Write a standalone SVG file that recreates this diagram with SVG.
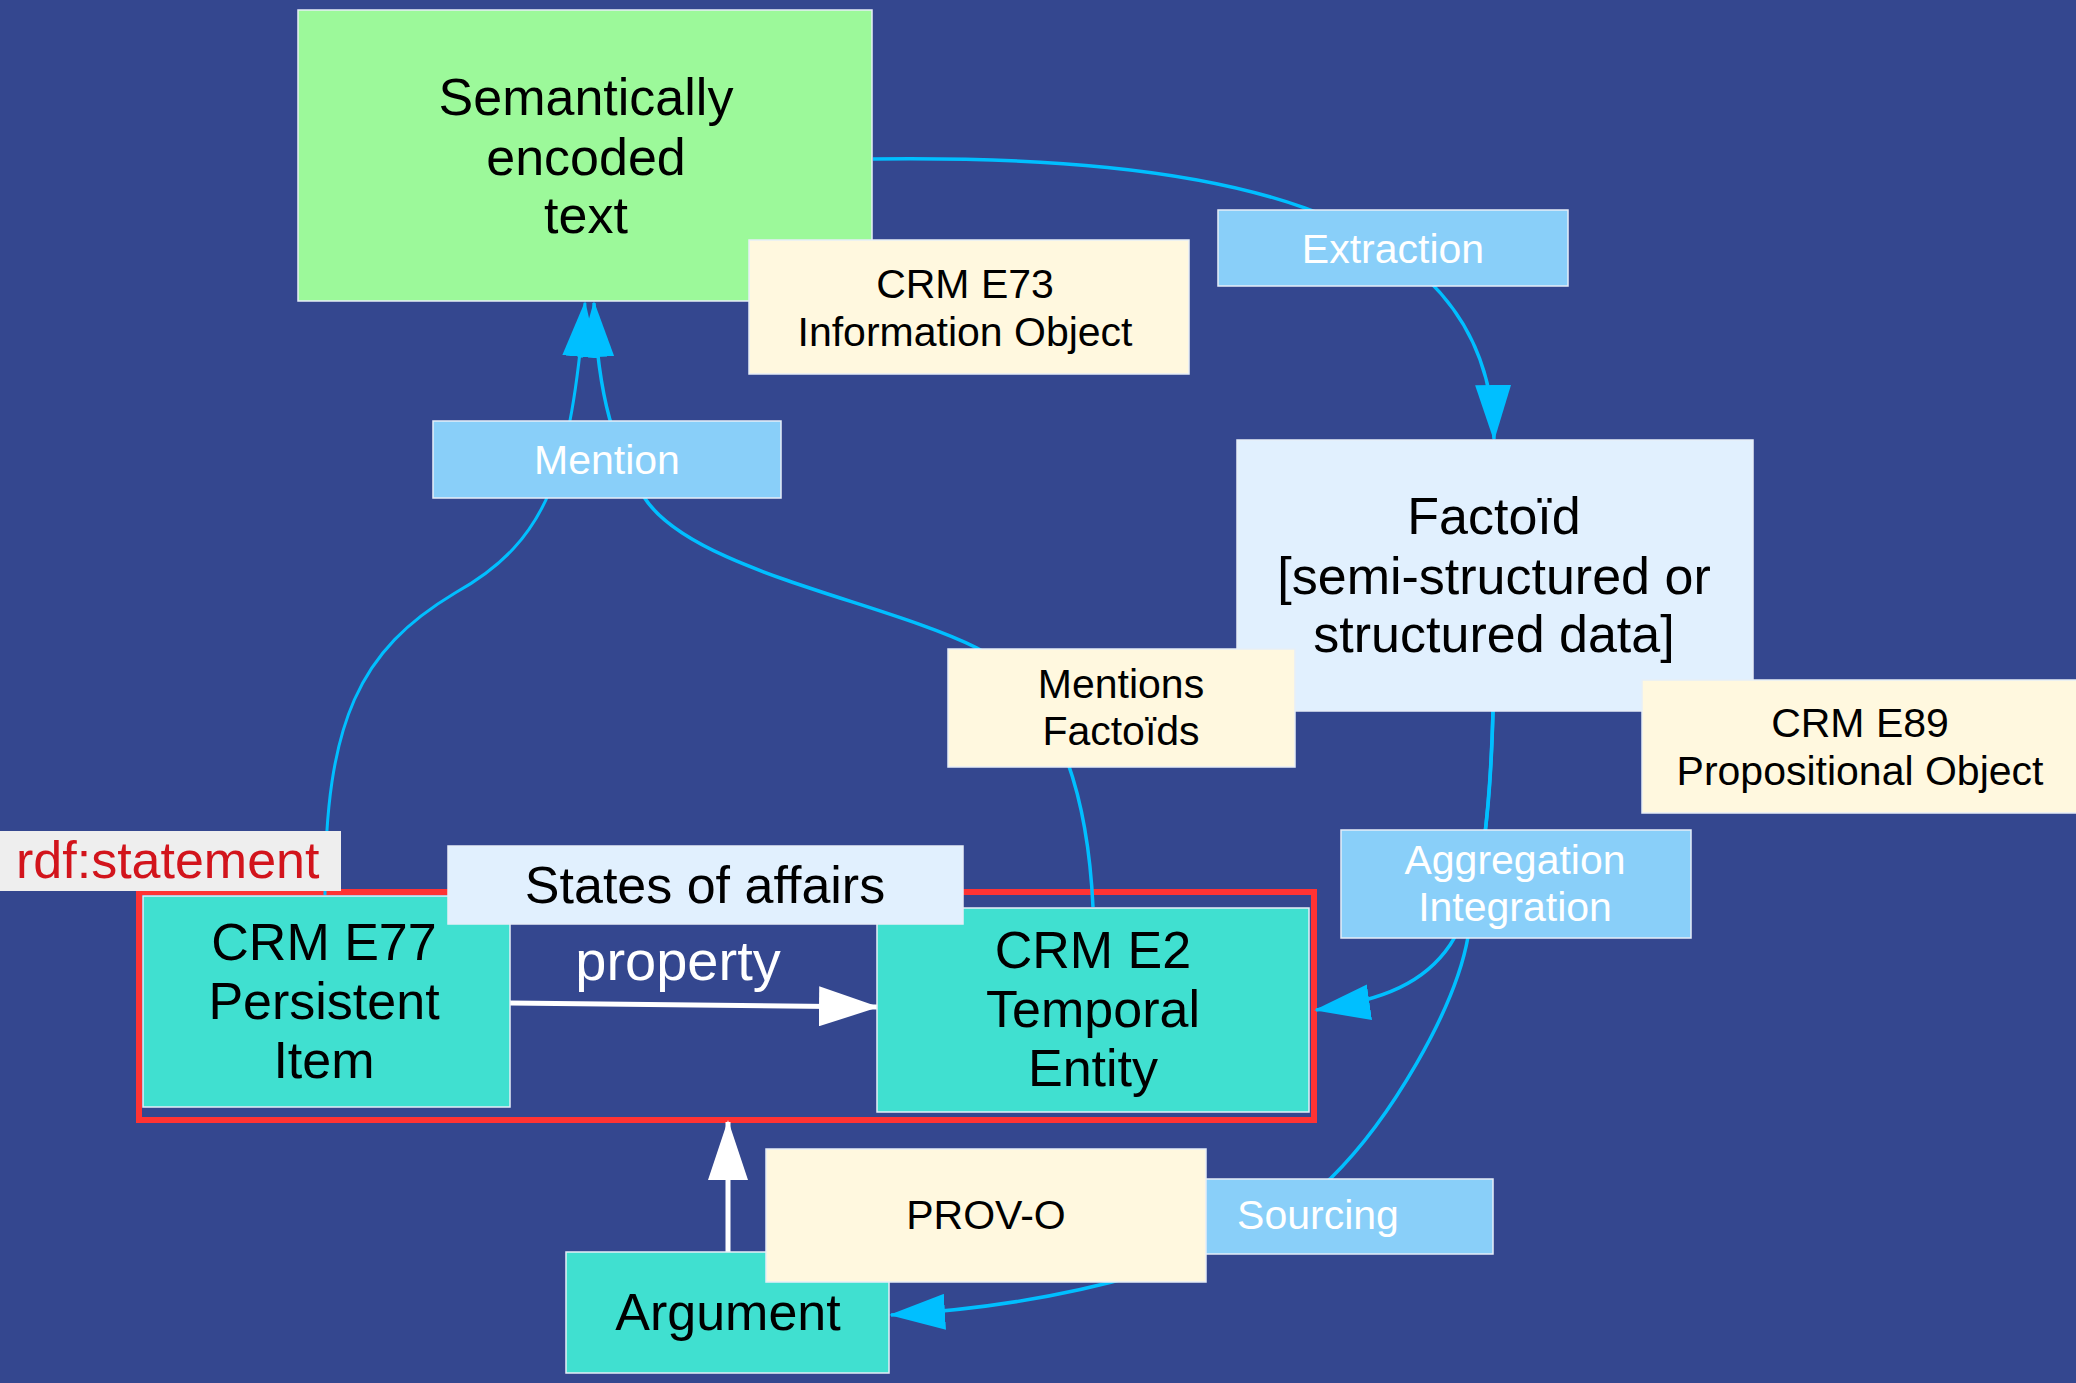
<svg xmlns="http://www.w3.org/2000/svg" width="2076" height="1383" viewBox="0 0 2076 1383">
<defs>
<style>
.bg{fill:#34478f}
.box{stroke:#e6eef8;stroke-width:1.5}
.green{fill:#9cf99a}
.cream{fill:#fff8df}
.lblue{fill:#89cff9}
.pale{fill:#e1f0fe}
.turq{fill:#40e0d0}
.grey{fill:#eeeeee;stroke:none}
.t{font-family:"Liberation Sans",Arial,Helvetica,sans-serif;text-anchor:middle;fill:#000}
.big{font-size:52px}
.mid{font-size:41px}
.w{fill:#ffffff}
.edge{fill:none;stroke:#00bfff;stroke-width:3.5}
.wedge{fill:none;stroke:#ffffff;stroke-width:5}
</style>
<marker id="cy" markerUnits="userSpaceOnUse" markerWidth="56" markerHeight="36" viewBox="0 0 56 36" refX="54" refY="18" orient="auto">
<path d="M0,0 L56,18 L0,36 z" fill="#00bfff"/>
</marker>
<marker id="wh" markerUnits="userSpaceOnUse" markerWidth="60" markerHeight="40" viewBox="0 0 60 40" refX="58" refY="20" orient="auto">
<path d="M0,0 L60,20 L0,40 z" fill="#ffffff"/>
</marker>
</defs>
<rect class="bg" x="0" y="0" width="2076" height="1383"/>

<g id="statement-frame">
<rect x="139" y="892" width="1175" height="228" fill="none" stroke="#ff3333" stroke-width="6"/>
</g>

<g id="connectors">
<path class="edge" d="M873,159 C1200,155 1490,200 1494,439" marker-end="url(#cy)"/>
<path class="edge" style="stroke-width:3" d="M325,895 C325,720 360,650 455,593 C550,540 570,470 585,303" marker-end="url(#cy)"/>
<path class="edge" d="M1093,907 C1088,800 1060,690 977,648 C880,600 690,570 644,497 C615,450 598,400 594,303" marker-end="url(#cy)"/>
<path class="edge" d="M1493,711 C1490,830 1480,900 1450,945 C1425,982 1385,1000 1316,1010" marker-end="url(#cy)"/>
<path class="edge" d="M1493,711 C1490,820 1480,880 1468,937 C1455,1010 1390,1120 1331,1178 C1240,1262 1060,1305 891,1315" marker-end="url(#cy)"/>
<path class="wedge" d="M510,1003 L877,1007" marker-end="url(#wh)"/>
<path class="wedge" d="M728,1253 L728,1122" marker-end="url(#wh)"/>
<text class="t w" x="678" y="980" font-size="56">property</text>
</g>

<g id="semantic-text">
<rect class="box green" x="298" y="10" width="574" height="291"/>
<text class="t big" x="586" y="115">Semantically</text>
<text class="t big" x="586" y="175">encoded</text>
<text class="t big" x="586" y="233">text</text>
</g>

<g id="crm-e73">
<rect class="box cream" x="749" y="240" width="440" height="134"/>
<text class="t mid" x="965" y="298">CRM E73</text>
<text class="t mid" x="965" y="346">Information Object</text>
</g>

<g id="extraction">
<rect class="box lblue" x="1218" y="210" width="350" height="76"/>
<text class="t mid w" x="1393" y="263">Extraction</text>
</g>

<g id="factoid">
<rect class="box pale" x="1237" y="440" width="516" height="271"/>
<text class="t big" x="1494" y="534">Factoïd</text>
<text class="t big" x="1494" y="594">[semi-structured or</text>
<text class="t big" x="1494" y="652">structured data]</text>
</g>

<g id="crm-e89">
<rect class="box cream" x="1642" y="680" width="440" height="133"/>
<text class="t mid" x="1860" y="737">CRM E89</text>
<text class="t mid" x="1860" y="785">Propositional Object</text>
</g>

<g id="mention">
<rect class="box lblue" x="433" y="421" width="348" height="77"/>
<text class="t mid w" x="607" y="474">Mention</text>
</g>

<g id="mentions-factoids">
<rect class="box cream" x="948" y="649" width="347" height="118"/>
<text class="t mid" x="1121" y="698">Mentions</text>
<text class="t mid" x="1121" y="745">Factoïds</text>
</g>

<g id="aggregation">
<rect class="box lblue" x="1341" y="830" width="350" height="108"/>
<text class="t mid w" x="1515" y="874">Aggregation</text>
<text class="t mid w" x="1515" y="921">Integration</text>
</g>

<g id="rdf-statement">
<rect class="grey" x="0" y="831" width="341" height="60"/>
<text class="t big" x="16" y="878" style="text-anchor:start;fill:#d2141c">rdf:statement</text>
</g>

<g id="crm-e77">
<rect class="box turq" x="143" y="896" width="367" height="211"/>
<text class="t big" x="324" y="960">CRM E77</text>
<text class="t big" x="324" y="1019">Persistent</text>
<text class="t big" x="324" y="1078">Item</text>
</g>

<g id="crm-e2">
<rect class="box turq" x="877" y="908" width="432" height="204"/>
<text class="t big" x="1093" y="968">CRM E2</text>
<text class="t big" x="1093" y="1027">Temporal</text>
<text class="t big" x="1093" y="1086">Entity</text>
</g>

<g id="states-of-affairs">
<rect class="box pale" x="448" y="846" width="515" height="78"/>
<text class="t big" x="705" y="903">States of affairs</text>
</g>

<g id="sourcing">
<rect class="box lblue" x="1144" y="1179" width="349" height="75"/>
<text class="t mid w" x="1318" y="1229">Sourcing</text>
</g>

<g id="argument">
<rect class="box turq" x="566" y="1252" width="323" height="121"/>
<text class="t big" x="728" y="1330">Argument</text>
</g>

<g id="prov-o">
<rect class="box cream" x="766" y="1149" width="440" height="133"/>
<text class="t mid" x="986" y="1229">PROV-O</text>
</g>
</svg>
